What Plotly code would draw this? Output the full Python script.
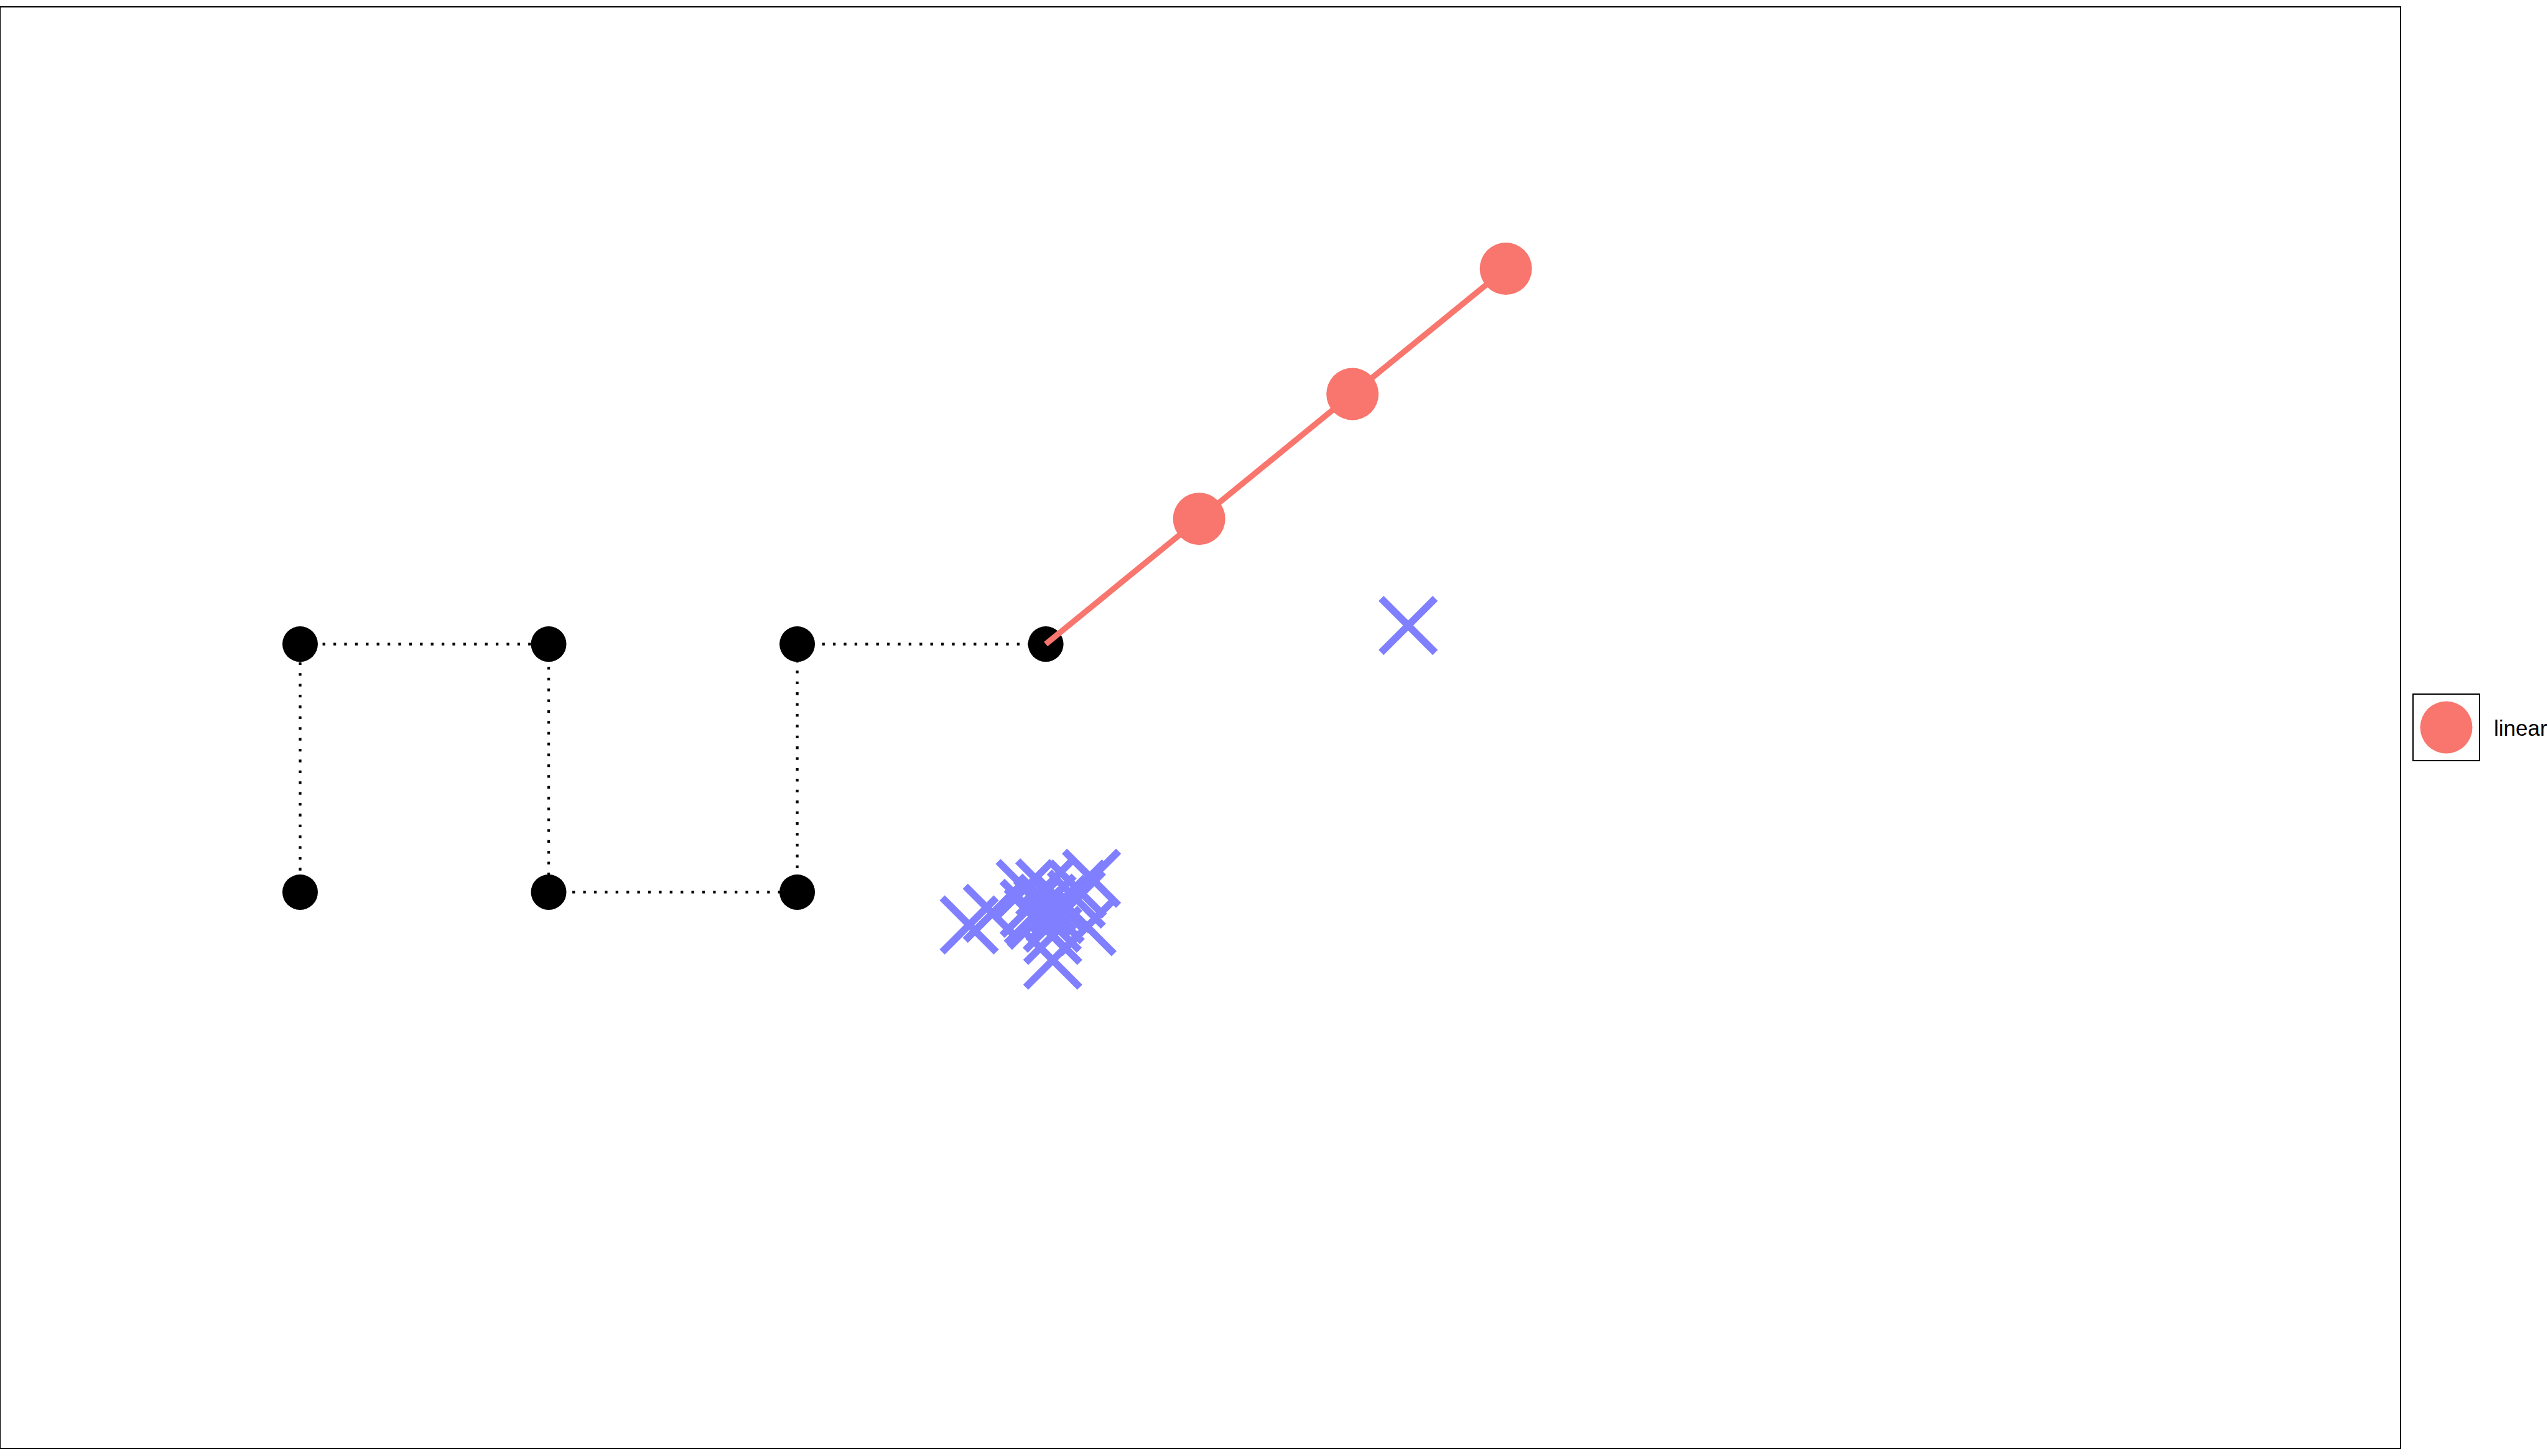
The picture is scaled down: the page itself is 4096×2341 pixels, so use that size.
import plotly.graph_objects as go

# ---- data ----
path_x = [0, 0, 1, 1, 2, 2, 3]
path_y = [0, 1, 1, 0, 0, 1, 1]

linear_x = [3.617, 4.234, 4.851]
linear_y = [1.505, 2.008, 2.513]
linear_name = "linear"

cross_x = [4.458, 2.692, 2.785, 2.917, 2.996, 3.184, 2.933, 3.005, 3.123, 2.950,
           3.127, 3.166, 3.028, 3.028, 3.026, 2.963, 3.050, 3.071, 2.988, 3.038]
cross_y = [1.075, -0.132, -0.085, 0.015, 0.017, 0.056, -0.065, -0.044, -0.028, -0.097,
           0.013, -0.139, -0.274, -0.174, -0.125, -0.113, -0.049, -0.047, -0.062, -0.090]

x_range = [-1.205, 8.447]
y_range = [-2.240, 3.566]

# ---- styles ----
W, H = 4096, 2341
RED = "#F8766D"
BLUE = "#7F7FFF"
FONT = "Liberation Sans, Arial, Helvetica, sans-serif"

fig = go.Figure()

# black square-wave path with dotted connectors
fig.add_trace(go.Scatter(
    x=path_x, y=path_y, mode="lines+markers",
    line=dict(color="black", width=4.3, dash="4.3px,13.1px"),
    marker=dict(color="black", size=57, symbol="circle", line=dict(width=0)),
    showlegend=False, hoverinfo="skip",
))

# red 'linear' line starting from the last black point
fig.add_trace(go.Scatter(
    x=[path_x[-1]] + linear_x, y=[path_y[-1]] + linear_y, mode="lines",
    line=dict(color=RED, width=9.3),
    showlegend=False, hoverinfo="skip",
))
fig.add_trace(go.Scatter(
    x=linear_x, y=linear_y, mode="markers", name=linear_name,
    marker=dict(color=RED, size=84, symbol="circle", line=dict(width=0)),
    showlegend=False, hoverinfo="skip",
))

# blue crosses
fig.add_trace(go.Scatter(
    x=cross_x, y=cross_y, mode="markers",
    marker=dict(symbol="x-thin", size=87, color=BLUE,
                line=dict(color=BLUE, width=11.6)),
    showlegend=False, hoverinfo="skip",
))

# legend key (own small axes so the symbol can be drawn at full size)
fig.add_trace(go.Scatter(
    x=[0], y=[0], mode="markers", xaxis="x2", yaxis="y2",
    marker=dict(color=RED, size=84, symbol="circle", line=dict(width=0)),
    showlegend=False, hoverinfo="skip",
))

axis_common = dict(showgrid=False, zeroline=False, showticklabels=False, ticks="",
                   showline=True, mirror=True, linecolor="black")

fig.update_layout(
    width=W, height=H,
    margin=dict(l=0, r=0, t=0, b=0),
    paper_bgcolor="white", plot_bgcolor="white",
    font=dict(family=FONT, color="black"),
    xaxis=dict(domain=[1 / W, 3857.5 / W], range=x_range, linewidth=1.7, **axis_common),
    yaxis=dict(domain=[(H - 2328) / H, (H - 12) / H], range=y_range, linewidth=1.7, **axis_common),
    xaxis2=dict(domain=[3880 / W, 3985 / W], range=[-1, 1], anchor="y2", linewidth=2.3,
                fixedrange=True, **axis_common),
    yaxis2=dict(domain=[(H - 1222) / H, (H - 1117) / H], range=[-1, 1], anchor="x2", linewidth=2.3,
                fixedrange=True, **axis_common),
    annotations=[dict(
        text=linear_name, xref="paper", yref="paper",
        x=4007 / W, y=(H - 1170) / H, xanchor="left", yanchor="middle",
        showarrow=False, font=dict(family=FONT, size=35, color="black"),
    )],
    showlegend=False,
)

fig.write_html("out.html", config={"displayModeBar": False})
